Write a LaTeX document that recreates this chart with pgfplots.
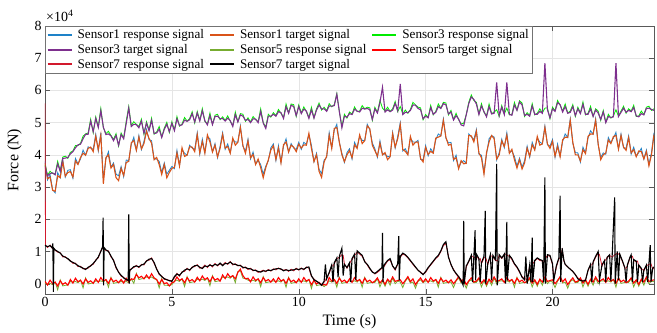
\documentclass[border=0pt]{standalone}
\usepackage{fontspec}
\setmainfont{Liberation Serif}
\usepackage{pgfplots}
\usepackage{pgfplotstable}
\pgfplotsset{compat=1.18}
\definecolor{sa}{RGB}{30,130,200}
\definecolor{sb}{RGB}{217,83,25}
\definecolor{sc}{RGB}{0,235,0}
\definecolor{sd}{RGB}{126,47,142}
\definecolor{se}{RGB}{119,172,48}
\definecolor{sf}{RGB}{255,0,0}
\definecolor{sg}{RGB}{210,25,45}
\definecolor{sh}{RGB}{0,0,0}
\pgfplotsset{lg/.style={legend image code/.code={\draw[##1,line width=2pt] (0bp,0bp) -- (24bp,0bp);}}}
% values in units of 10^4 N
\pgfplotstableread{
t O B P G
0.0 3.74 3.80 3.64 3.69
0.1 3.26 3.22 3.35 3.37
0.2 3.31 3.39 3.42 3.49
0.3 2.90 2.92 3.44 3.42
0.4 2.87 2.82 3.38 3.41
0.5 3.35 3.45 3.72 3.80
0.6 3.29 3.29 3.49 3.50
0.7 3.80 3.85 3.89 3.93
0.8 3.34 3.31 3.90 3.96
0.9 3.45 3.52 3.92 3.89
1.0 3.48 3.54 4.03 4.08
1.1 3.31 3.27 4.10 4.12
1.2 3.81 3.89 4.22 4.29
1.3 3.70 3.72 4.31 4.29
1.4 3.92 3.87 4.33 4.36
1.5 4.05 4.15 4.50 4.58
1.6 3.99 3.99 4.64 4.65
1.7 4.20 4.25 4.64 4.68
1.8 4.24 4.21 5.05 5.11
1.9 4.10 4.17 4.72 4.69
2.0 4.58 4.64 5.13 5.18
2.1 4.16 4.12 4.85 4.87
2.2 4.61 4.69 5.37 5.44
2.3 3.10 3.25 4.86 4.84
2.4 3.92 3.87 4.63 4.66
2.5 4.00 4.10 4.65 4.73
2.6 3.59 3.62 4.59 4.60
2.7 3.70 3.75 4.44 4.48
2.8 3.29 3.40 4.60 4.66
2.9 3.20 3.35 4.30 4.27
3.0 3.58 3.64 4.63 4.68
3.1 3.36 3.32 4.50 4.52
3.2 3.76 3.84 4.97 5.04
3.3 3.80 3.82 5.45 5.50
3.4 4.37 4.32 4.88 4.91
3.5 4.45 4.55 4.95 5.03
3.6 4.14 4.14 4.94 4.95
3.7 4.55 4.60 4.84 4.88
3.8 4.19 4.16 5.05 5.11
3.9 4.35 4.42 4.67 4.64
4.0 4.73 4.79 4.98 5.03
4.1 4.51 4.47 4.75 4.77
4.2 4.36 4.44 5.07 5.14
4.3 3.85 3.87 4.66 4.64
4.4 3.92 3.87 4.68 4.71
4.5 3.70 3.80 4.80 4.88
4.6 3.39 3.45 4.54 4.55
4.7 3.70 3.75 4.79 4.83
4.8 3.29 3.40 4.95 5.01
4.9 3.45 3.52 4.72 4.69
5.0 3.58 3.64 4.98 5.03
5.1 3.61 3.57 4.75 4.77
5.2 4.06 4.14 5.12 5.19
5.3 3.65 3.67 4.91 4.89
5.4 4.22 4.17 4.93 4.96
5.5 3.95 4.05 5.08 5.16
5.6 3.99 3.99 5.04 5.05
5.7 4.25 4.30 5.09 5.13
5.8 4.24 4.21 5.28 5.34
5.9 4.10 4.17 5.02 4.99
6.0 4.63 4.69 5.30 5.35
6.1 4.06 4.02 5.05 5.07
6.2 4.41 4.49 5.37 5.44
6.3 4.05 4.07 5.06 5.04
6.4 4.62 4.57 4.93 4.96
6.5 4.40 4.50 5.22 5.30
6.6 4.09 4.09 4.94 4.95
6.7 4.30 4.35 5.19 5.23
6.8 3.94 3.91 5.20 5.26
6.9 4.20 4.27 5.12 5.09
7.0 4.63 4.69 5.13 5.18
7.1 4.21 4.17 5.05 5.07
7.2 4.26 4.34 5.14 5.21
7.3 4.05 4.07 5.06 5.04
7.4 4.52 4.47 4.88 4.91
7.5 4.30 4.40 5.25 5.33
7.6 4.39 4.39 5.02 5.03
7.7 4.85 4.90 5.24 5.28
7.8 4.29 4.26 5.20 5.26
7.9 4.05 4.12 5.07 5.04
8.0 4.43 4.49 5.10 5.15
8.1 3.91 3.87 5.00 5.02
8.2 4.01 4.09 5.12 5.19
8.3 3.70 3.72 5.11 5.09
8.4 3.87 3.82 5.00 5.03
8.5 3.60 3.70 5.35 5.43
8.6 3.29 3.40 4.99 5.00
8.7 3.60 3.65 4.82 4.86
8.8 3.84 3.81 5.20 5.26
8.9 4.15 4.22 5.20 5.17
9.0 4.28 4.34 5.26 5.31
9.1 3.86 3.82 5.20 5.22
9.2 4.21 4.29 5.34 5.41
9.3 3.75 3.77 5.31 5.29
9.4 4.32 4.27 5.13 5.16
9.5 4.40 4.50 5.50 5.58
9.6 4.09 4.09 5.29 5.30
9.7 4.30 4.35 5.54 5.58
9.8 4.24 4.21 5.50 5.56
9.9 4.10 4.17 5.22 5.19
10.0 4.33 4.39 5.50 5.55
10.1 4.21 4.17 5.28 5.30
10.2 4.31 4.39 5.42 5.49
10.3 4.30 4.32 5.36 5.34
10.4 4.67 4.62 5.13 5.16
10.5 4.20 4.30 5.40 5.48
10.6 3.79 3.79 5.14 5.15
10.7 4.00 4.05 5.39 5.43
10.8 3.49 3.55 5.55 5.61
10.9 3.30 3.42 5.42 5.39
11.0 3.78 3.84 5.43 5.48
11.1 3.96 3.92 5.35 5.37
11.2 4.61 4.69 5.52 5.59
11.3 4.20 4.22 5.51 5.49
11.4 4.82 4.77 5.53 5.56
11.5 4.85 4.95 5.88 5.90
11.6 4.39 4.39 5.34 5.35
11.7 4.00 4.05 4.84 4.88
11.8 3.79 3.76 5.20 5.26
11.9 4.00 4.07 5.17 5.14
12.0 4.13 4.19 5.28 5.33
12.1 3.91 3.87 5.25 5.27
12.2 4.31 4.39 5.42 5.49
12.3 4.20 4.22 5.36 5.34
12.4 4.62 4.57 5.33 5.36
12.5 4.35 4.45 5.45 5.53
12.6 4.44 4.44 5.42 5.43
12.7 4.90 4.95 5.44 5.48
12.8 4.81 4.78 5.40 5.46
12.9 4.30 4.37 5.10 5.07
13.0 4.13 4.19 5.43 5.48
13.1 3.96 3.92 5.30 5.32
13.2 4.36 4.44 5.62 5.69
13.3 4.00 4.02 6.10 5.45
13.4 4.07 4.02 5.33 5.36
13.5 3.85 3.95 5.40 5.48
13.6 3.94 3.94 5.34 5.35
13.7 4.65 4.70 5.39 5.43
13.8 4.24 4.21 5.60 5.66
13.9 4.50 4.57 5.37 5.34
14.0 4.94 5.00 6.20 5.50
14.1 4.16 4.12 5.25 5.27
14.2 4.11 4.19 5.32 5.39
14.3 4.00 4.02 5.31 5.29
14.4 4.57 4.52 5.38 5.41
14.5 4.30 4.40 5.55 5.63
14.6 4.39 4.39 5.54 5.55
14.7 4.40 4.45 5.44 5.48
14.8 3.89 3.86 5.40 5.46
14.9 3.78 3.85 5.12 5.09
15.0 4.23 4.29 5.20 5.25
15.1 4.01 3.97 5.15 5.17
15.2 4.11 4.19 5.47 5.54
15.3 4.05 4.07 5.26 5.24
15.4 4.52 4.47 5.32 5.35
15.5 4.55 4.65 5.50 5.58
15.6 4.59 4.59 5.44 5.45
15.7 5.07 5.12 5.59 5.63
15.8 4.54 4.51 5.55 5.61
15.9 4.30 4.37 5.27 5.24
16.0 4.33 4.39 5.33 5.38
16.1 3.86 3.82 5.08 5.10
16.2 3.91 3.99 5.22 5.29
16.3 3.57 3.59 5.11 5.09
16.4 3.82 3.77 4.93 4.96
16.5 3.72 3.82 4.90 4.98
16.6 3.74 3.74 5.24 5.25
16.7 4.60 4.65 5.59 5.63
16.8 4.59 4.56 5.80 5.86
16.9 4.40 4.47 5.72 5.69
17.0 4.73 4.79 5.58 5.63
17.1 4.06 4.02 5.25 5.27
17.2 3.91 3.99 5.52 5.59
17.3 3.40 3.45 5.34 5.32
17.4 4.07 4.02 5.18 5.21
17.5 4.40 4.50 5.50 5.58
17.6 4.60 4.60 5.27 5.28
17.7 4.50 4.55 5.29 5.33
17.8 3.87 3.84 6.25 5.40
17.9 4.00 4.07 5.22 5.19
18.0 4.43 4.49 5.48 5.53
18.1 4.26 4.22 5.25 5.27
18.2 4.61 4.69 6.25 5.45
18.3 4.05 4.07 5.26 5.24
18.4 4.17 4.12 5.23 5.26
18.5 3.85 3.95 5.55 5.63
18.6 3.59 3.65 5.38 5.39
18.7 3.85 3.90 5.64 5.68
18.8 3.56 3.62 5.55 5.61
18.9 3.75 3.82 5.22 5.19
19.0 4.21 4.27 5.26 5.31
19.1 3.96 3.92 5.20 5.22
19.2 4.31 4.39 5.52 5.59
19.3 4.15 4.17 5.26 5.24
19.4 4.57 4.52 5.26 5.29
19.5 4.30 4.40 5.35 5.43
19.6 4.34 4.34 5.29 5.30
19.7 4.85 4.90 6.85 5.45
19.8 4.34 4.31 5.40 5.46
19.9 4.20 4.27 5.15 5.12
20.0 4.42 4.48 5.43 5.48
20.1 3.96 3.92 5.35 5.37
20.2 4.26 4.34 5.62 5.69
20.3 3.94 3.96 5.56 5.54
20.4 4.47 4.42 5.33 5.36
20.5 4.55 4.65 5.50 5.58
20.6 4.54 4.54 5.29 5.30
20.7 5.07 5.12 5.32 5.36
20.8 4.39 4.36 5.50 5.56
20.9 4.00 4.07 5.22 5.19
21.0 4.00 4.06 5.43 5.48
21.1 3.81 3.77 5.28 5.30
21.2 4.16 4.24 5.57 5.64
21.3 4.04 4.06 5.26 5.24
21.4 4.57 4.52 5.26 5.29
21.5 4.65 4.75 5.43 5.51
21.6 4.64 4.64 5.19 5.20
21.7 5.07 5.12 5.39 5.43
21.8 4.34 4.31 5.30 5.36
21.9 3.85 3.92 5.10 5.07
22.0 4.00 4.06 5.33 5.38
22.1 4.06 4.02 5.00 5.02
22.2 4.46 4.54 5.19 5.26
22.3 4.35 4.37 5.16 5.14
22.4 4.57 4.52 5.18 5.21
22.5 4.60 4.70 6.85 5.40
22.6 4.18 4.18 5.19 5.20
22.7 4.60 4.65 5.32 5.36
22.8 4.24 4.21 5.45 5.51
22.9 4.14 4.21 5.32 5.29
23.0 4.53 4.59 5.38 5.43
23.1 4.06 4.02 5.34 5.36
23.2 4.16 4.24 5.47 5.54
23.3 3.94 3.96 5.21 5.19
23.4 4.12 4.07 5.18 5.21
23.5 4.10 4.20 5.28 5.36
23.6 3.87 3.87 5.24 5.25
23.7 4.10 4.15 5.44 5.48
23.8 3.66 3.70 5.45 5.51
23.9 4.00 4.07 5.41 5.38
24.0 4.63 4.69 5.38 5.43
}\tabA
\pgfplotstableread{
t R T
0.0 0.01 0.07
0.1 -0.02 -0.04
0.2 0.01 0.11
0.3 -0.03 0.00
0.4 0.05 0.05
0.5 -0.19 -0.07
0.6 0.12 0.09
0.7 -0.07 -0.02
0.8 -0.05 0.03
0.9 -0.04 -0.05
1.0 0.07 0.13
1.1 0.04 0.02
1.2 0.07 0.17
1.3 0.03 0.06
1.4 0.11 0.11
1.5 -0.13 -0.01
1.6 0.18 0.15
1.7 -0.01 0.04
1.8 0.01 0.09
1.9 0.02 0.01
2.0 0.09 0.15
2.1 0.06 0.04
2.2 0.09 0.19
2.3 0.05 0.08
2.4 0.13 0.13
2.5 -0.11 0.01
2.6 0.20 0.17
2.7 0.01 0.06
2.8 0.03 0.11
2.9 0.04 0.03
3.0 0.07 0.13
3.1 0.04 0.02
3.2 0.07 0.17
3.3 0.03 0.06
3.4 0.15 0.15
3.5 0.01 0.13
3.6 0.32 0.29
3.7 0.13 0.18
3.8 0.15 0.23
3.9 0.16 0.15
4.0 0.21 0.27
4.1 0.18 0.16
4.2 0.21 0.31
4.3 0.15 0.18
4.4 0.13 0.13
4.5 -0.13 -0.01
4.6 0.16 0.13
4.7 -0.05 0.00
4.8 -0.05 0.03
4.9 -0.06 -0.07
5.0 -0.03 0.03
5.1 0.08 0.06
5.2 0.11 0.21
5.3 0.07 0.10
5.4 0.15 0.15
5.5 -0.09 0.03
5.6 0.22 0.19
5.7 0.03 0.08
5.8 0.05 0.13
5.9 0.06 0.05
6.0 0.14 0.20
6.1 0.11 0.09
6.2 0.14 0.24
6.3 0.10 0.13
6.4 0.18 0.18
6.5 -0.06 0.06
6.6 0.25 0.22
6.7 0.06 0.11
6.8 0.08 0.16
6.9 0.09 0.08
7.0 0.21 0.27
7.1 0.18 0.16
7.2 0.21 0.31
7.3 0.17 0.20
7.4 0.25 0.25
7.5 0.03 0.15
7.6 0.38 0.35
7.7 0.40 0.45
7.8 0.17 0.25
7.9 0.16 0.15
8.0 0.11 0.17
8.1 0.08 0.06
8.2 0.11 0.21
8.3 0.07 0.10
8.4 0.15 0.15
8.5 -0.09 0.03
8.6 0.22 0.19
8.7 0.03 0.08
8.8 0.05 0.13
8.9 0.06 0.05
9.0 0.09 0.15
9.1 0.06 0.04
9.2 0.09 0.19
9.3 0.05 0.08
9.4 0.13 0.13
9.5 -0.11 0.01
9.6 0.20 0.17
9.7 0.01 0.06
9.8 0.03 0.11
9.9 0.04 0.03
10.0 0.09 0.15
10.1 0.06 0.04
10.2 0.09 0.19
10.3 0.05 0.08
10.4 0.13 0.13
10.5 -0.15 -0.03
10.6 0.13 0.10
10.7 -0.06 -0.01
10.8 -0.04 0.04
10.9 -0.03 -0.04
11.0 -0.09 -0.03
11.1 -0.02 -0.04
11.2 0.09 0.19
11.3 0.05 0.08
11.4 0.13 0.13
11.5 -0.11 0.01
11.6 0.20 0.17
11.7 0.01 0.06
11.8 0.03 0.11
11.9 0.04 0.03
12.0 0.09 0.15
12.1 0.06 0.04
12.2 0.09 0.19
12.3 0.05 0.08
12.4 0.13 0.13
12.5 -0.11 0.01
12.6 0.20 0.17
12.7 0.01 0.06
12.8 0.03 0.11
12.9 0.04 0.03
13.0 0.04 0.08
13.1 0.15 0.18
13.2 -0.10 0.02
13.3 0.10 0.12
13.4 -0.08 -0.02
13.5 0.12 0.14
13.6 -0.05 0.05
13.7 0.17 0.21
13.8 0.00 0.07
13.9 0.08 0.10
14.0 0.05 0.12
14.1 -0.12 0.00
14.2 0.08 0.10
14.3 0.18 0.22
14.4 0.02 0.06
14.5 0.05 0.15
14.6 -0.14 -0.03
14.7 0.07 0.09
14.8 0.12 0.18
14.9 0.03 0.05
15.0 0.09 0.15
15.1 0.06 0.04
15.2 0.09 0.19
15.3 0.05 0.08
15.4 0.13 0.13
15.5 -0.11 0.01
15.6 0.20 0.17
15.7 0.01 0.06
15.8 0.03 0.11
15.9 0.04 0.03
16.0 0.05 0.12
16.1 -0.12 0.00
16.2 0.08 0.10
16.3 0.18 0.22
16.4 0.02 0.06
16.5 0.05 0.15
16.6 -0.14 -0.03
16.7 0.07 0.09
16.8 0.12 0.18
16.9 0.03 0.05
17.0 0.04 0.08
17.1 0.15 0.18
17.2 -0.10 0.02
17.3 0.10 0.12
17.4 -0.08 -0.02
17.5 0.12 0.14
17.6 -0.05 0.05
17.7 0.17 0.21
17.8 0.00 0.07
17.9 0.08 0.10
18.0 0.09 0.15
18.1 0.06 0.04
18.2 0.09 0.19
18.3 0.05 0.08
18.4 0.13 0.13
18.5 -0.11 0.01
18.6 0.20 0.17
18.7 0.01 0.06
18.8 0.03 0.11
18.9 0.04 0.03
19.0 0.04 0.08
19.1 0.15 0.18
19.2 -0.10 0.02
19.3 0.10 0.12
19.4 -0.08 -0.02
19.5 0.12 0.14
19.6 -0.05 0.05
19.7 0.17 0.21
19.8 0.00 0.07
19.9 0.08 0.10
20.0 0.05 0.12
20.1 -0.12 0.00
20.2 0.08 0.10
20.3 0.18 0.22
20.4 0.02 0.06
20.5 0.05 0.15
20.6 -0.14 -0.03
20.7 0.07 0.09
20.8 0.12 0.18
20.9 0.03 0.05
21.0 0.04 0.08
21.1 0.15 0.18
21.2 -0.10 0.02
21.3 0.10 0.12
21.4 -0.08 -0.02
21.5 0.12 0.14
21.6 -0.05 0.05
21.7 0.17 0.21
21.8 0.00 0.07
21.9 0.08 0.10
22.0 0.09 0.15
22.1 0.06 0.04
22.2 0.09 0.19
22.3 0.05 0.08
22.4 0.13 0.13
22.5 -0.11 0.01
22.6 0.20 0.17
22.7 0.01 0.06
22.8 0.03 0.11
22.9 0.04 0.03
23.0 0.04 0.08
23.1 0.15 0.18
23.2 -0.10 0.02
23.3 0.10 0.12
23.4 -0.08 -0.02
23.5 0.12 0.14
23.6 -0.05 0.05
23.7 0.17 0.21
23.8 0.00 0.07
23.9 0.08 0.10
24.0 0.06 0.12
}\tabB
\pgfplotstableread{
t R T
0.00 5.60 1.20
0.02 1.20 1.18
0.10 1.12 1.15
0.20 1.20 1.18
0.28 1.10 1.12
0.31 1.10 1.25
0.33 1.08 -0.25
0.35 1.05 1.10
0.40 1.04 1.05
0.50 0.98 1.00
0.60 0.96 0.95
0.70 0.83 0.86
0.80 0.84 0.82
0.90 0.76 0.78
1.00 0.72 0.70
1.10 0.63 0.66
1.20 0.64 0.62
1.30 0.53 0.56
1.40 0.54 0.52
1.50 0.46 0.48
1.60 0.47 0.44
1.70 0.48 0.51
1.80 0.57 0.55
1.90 0.60 0.63
2.00 0.74 0.72
2.10 0.80 0.83
2.20 1.02 1.00
2.27 1.12 1.15
2.29 1.12 2.05
2.31 1.10 -0.05
2.33 1.10 1.12
2.40 1.03 1.05
2.50 1.02 1.00
2.60 0.83 0.86
2.70 0.74 0.72
2.80 0.48 0.51
2.90 0.37 0.35
3.00 0.23 0.26
3.10 0.20 0.18
3.20 0.10 0.13
3.28 0.12 0.10
3.30 0.12 2.15
3.32 0.15 0.00
3.34 0.40 0.42
3.40 0.47 0.45
3.50 0.50 0.53
3.60 0.57 0.55
3.70 0.50 0.52
3.80 0.60 0.58
3.90 0.58 0.61
4.00 0.72 0.70
4.10 0.73 0.76
4.20 0.80 0.78
4.30 0.63 0.66
4.40 0.47 0.45
4.50 0.28 0.31
4.60 0.24 0.22
4.70 0.13 0.16
4.80 0.14 0.12
4.90 0.08 0.10
5.00 0.10 0.07
5.10 0.18 0.22
5.20 0.32 0.30
5.30 0.23 0.26
5.40 0.37 0.35
5.50 0.38 0.42
5.60 0.48 0.46
5.70 0.40 0.43
5.80 0.52 0.50
5.90 0.53 0.56
6.00 0.59 0.57
6.10 0.48 0.51
6.20 0.50 0.47
6.30 0.58 0.55
6.40 0.50 0.53
6.50 0.60 0.58
6.60 0.52 0.55
6.70 0.63 0.60
6.80 0.55 0.57
6.90 0.62 0.64
7.00 0.58 0.56
7.10 0.66 0.63
7.20 0.60 0.62
7.30 0.69 0.67
7.40 0.58 0.61
7.50 0.62 0.60
7.60 0.55 0.57
7.70 0.58 0.56
7.80 0.48 0.51
7.90 0.52 0.50
8.00 0.44 0.47
8.10 0.48 0.46
8.20 0.40 0.42
8.30 0.43 0.41
8.40 0.35 0.38
8.50 0.38 0.36
8.60 0.42 0.40
8.70 0.37 0.39
8.80 0.44 0.42
8.90 0.39 0.41
9.00 0.46 0.44
9.10 0.43 0.46
9.20 0.49 0.47
9.30 0.44 0.46
9.40 0.42 0.40
9.50 0.44 0.43
9.60 0.38 0.41
9.70 0.45 0.42
9.80 0.40 0.43
9.90 0.48 0.46
10.00 0.42 0.44
10.10 0.49 0.47
10.20 0.43 0.45
10.30 0.52 0.50
10.40 0.48 0.52
10.50 0.22 0.25
10.60 0.15 0.12
10.70 0.06 0.08
10.80 0.04 0.02
10.90 -0.03 -0.05
11.00 0.05 0.08
11.05 0.10 0.60
11.10 0.20 0.15
11.20 0.32 0.35
11.30 0.55 0.58
11.35 0.55 0.05
11.40 0.62 0.65
11.50 0.78 0.80
11.55 0.80 0.20
11.60 0.82 0.85
11.70 0.90 1.10
11.75 0.88 0.25
11.80 0.62 0.60
11.90 0.48 0.50
12.00 0.62 0.65
12.05 0.70 0.05
12.10 0.75 0.78
12.20 0.88 0.92
12.25 0.92 0.10
12.30 0.98 1.02
12.40 0.92 0.95
12.50 0.85 0.88
12.60 0.70 0.68
12.70 0.58 0.60
12.80 0.45 0.48
12.90 0.38 0.36
13.00 0.30 0.32
13.10 0.35 0.38
13.20 0.42 0.45
13.28 0.48 0.50
13.30 0.48 1.58
13.32 0.50 0.05
13.35 0.52 0.55
13.40 0.58 0.62
13.50 0.70 0.72
13.60 0.74 0.78
13.70 0.55 0.55
13.80 0.42 0.45
13.90 0.60 0.62
13.94 0.70 1.48
13.96 0.72 0.10
14.00 0.82 0.85
14.10 0.92 0.95
14.20 0.88 0.90
14.30 0.80 0.82
14.40 0.70 0.72
14.50 0.60 0.62
14.60 0.50 0.52
14.70 0.42 0.42
14.80 0.36 0.35
14.90 0.30 0.28
15.00 0.35 0.38
15.10 0.48 0.50
15.20 0.58 0.60
15.30 0.68 0.70
15.40 0.78 0.80
15.50 0.85 0.88
15.60 1.00 1.02
15.70 1.18 1.22
15.80 1.25 1.30
15.90 0.85 0.82
16.00 0.58 0.60
16.10 0.45 0.42
16.20 0.30 0.32
16.30 0.20 0.22
16.40 0.12 0.10
16.48 0.00 -0.05
16.50 0.02 1.95
16.52 0.05 0.00
16.60 0.52 0.55
16.70 0.68 0.70
16.80 0.85 0.88
16.85 0.85 0.05
16.90 0.80 0.82
16.95 0.82 1.66
16.97 0.82 0.10
17.00 0.88 0.92
17.10 0.75 0.78
17.15 0.78 0.05
17.20 0.62 0.65
17.30 0.80 0.85
17.35 0.82 2.26
17.37 0.80 0.00
17.45 0.60 0.62
17.55 0.85 0.90
17.60 0.86 0.10
17.65 0.85 0.88
17.75 0.72 0.75
17.80 0.72 3.72
17.82 0.70 -0.05
17.90 0.88 0.90
18.00 0.78 0.80
18.10 0.90 0.92
18.15 0.92 0.00
18.20 0.90 1.92
18.22 0.88 0.10
18.30 0.85 0.88
18.40 0.75 0.78
18.50 0.60 0.62
18.60 0.50 0.52
18.70 0.35 0.38
18.80 0.22 0.20
18.90 0.15 0.12
18.95 0.15 0.85
19.00 0.10 0.00
19.10 0.55 0.58
19.15 0.55 0.05
19.20 0.62 1.43
19.22 0.62 0.05
19.30 0.70 0.72
19.40 0.78 0.80
19.50 0.72 0.75
19.60 0.70 0.72
19.65 0.70 0.05
19.70 0.75 3.30
19.72 0.78 0.00
19.80 0.88 0.90
19.90 0.85 0.88
20.00 0.60 0.62
20.05 0.15 0.10
20.15 0.50 0.55
20.25 0.78 0.80
20.30 0.80 2.73
20.32 0.82 0.05
20.38 1.05 1.10
20.45 0.70 0.72
20.50 0.60 0.60
20.60 0.52 0.52
20.70 0.45 0.45
20.80 0.38 0.38
20.90 0.28 0.28
21.00 0.18 0.15
21.10 0.12 0.10
21.20 0.10 0.08
21.30 0.12 0.10
21.40 0.40 0.42
21.50 0.58 0.60
21.55 0.58 0.05
21.60 0.65 0.68
21.70 0.82 0.85
21.80 0.95 1.00
21.85 0.90 0.10
21.95 0.55 0.58
22.05 0.70 0.72
22.10 0.75 0.05
22.15 0.80 0.82
22.25 0.88 0.90
22.30 0.85 0.08
22.35 0.82 0.85
22.45 0.90 2.68
22.47 0.90 0.00
22.55 0.95 1.00
22.60 0.92 0.10
22.65 0.90 0.92
22.75 0.70 0.72
22.85 0.48 0.50
22.90 0.48 0.05
22.95 0.55 0.58
23.05 0.80 0.82
23.10 0.85 0.90
23.15 0.85 0.05
23.20 0.72 0.75
23.30 0.68 0.70
23.35 0.70 0.05
23.40 0.55 0.58
23.50 0.45 0.48
23.55 0.45 0.05
23.60 0.40 0.42
23.70 0.55 0.58
23.75 0.58 0.05
23.80 0.60 0.62
23.85 0.62 1.20
23.88 0.62 0.05
23.95 0.45 0.48
24.00 0.50 0.52
}\tabC
\begin{document}
\begin{tikzpicture}
\begin{axis}[
  scale only axis,
  width=609bp, height=268bp,
  xmin=0, xmax=24, ymin=-0.32, ymax=8,
  xtick={0,5,10,15,20}, ytick={0,1,2,3,4,5,6,7,8},
  tick align=inside, major tick length=5bp,
  axis line style={black!65}, tick style={black!65},
  grid=major, major grid style={black!10},
  /pgf/number format/assume math mode=true,
  tick label style={font=\fontsize{14}{16}\selectfont},
  label style={font=\fontsize{16}{18}\selectfont},
  xlabel={Time (s)}, ylabel={Force (N)},
  xlabel style={at={(axis description cs:0.5,-0.104)}, anchor=center},
  ylabel style={at={(axis description cs:-0.050,0.5)}, anchor=center},
  every axis plot/.append style={line width=1.1pt},
  legend columns=3,
  legend cell align=left,
  legend style={at={(0,1)}, anchor=north west, draw=black!55,
    font=\fontsize{13.2}{16.2}\selectfont, inner sep=1.5bp,
    column sep=3bp, row sep=0bp},
]
\addplot[color=sa, lg, line width=0.8pt] table[x=t,y=B] {\tabA};
\addlegendentry{Sensor1 response signal}
\addplot[color=sb, lg] table[x=t,y=O] {\tabA};
\addlegendentry{Sensor1 target signal}
\addplot[color=sc, lg, line width=0.8pt] table[x=t,y=G] {\tabA};
\addlegendentry{Sensor3 response signal}
\addplot[color=sd, lg] table[x=t,y=P] {\tabA};
\addlegendentry{Sensor3 target signal}
\addplot[color=se, lg, line width=0.8pt] table[x=t,y=R] {\tabB};
\addlegendentry{Sensor5 response signal}
\addplot[color=sf, lg] table[x=t,y=T] {\tabB};
\addlegendentry{Sensor5 target signal}
\addplot[color=sg, lg, line width=0.8pt] table[x=t,y=R] {\tabC};
\addlegendentry{Sensor7 response signal}
\addplot[color=sh, lg] table[x=t,y=T] {\tabC};
\addlegendentry{Sensor7 target signal}
\end{axis}
\node[anchor=south west, font=\fontsize{14}{16}\selectfont, inner sep=0pt] at (1bp,272bp) {×10\textsuperscript{4}};
\pgfresetboundingbox
\path[use as bounding box] (-45bp,-39bp) rectangle (612bp,294bp);
\end{tikzpicture}
\end{document}
